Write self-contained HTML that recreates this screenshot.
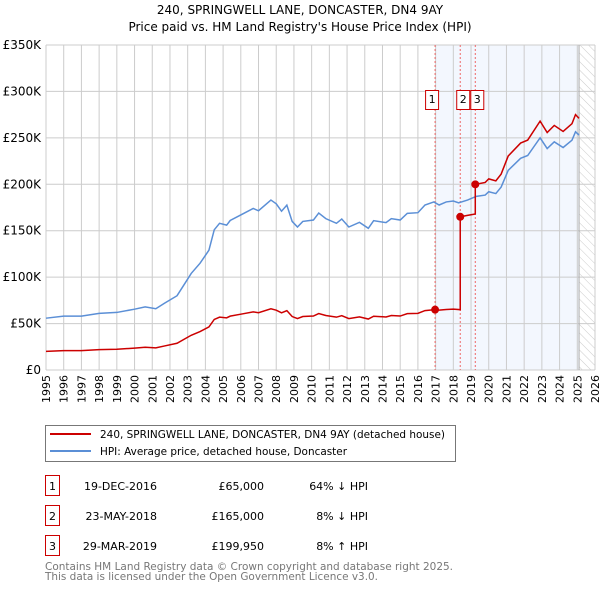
<!DOCTYPE html>
<html><head><meta charset="utf-8"><style>
body{margin:0;background:#fff;font-family:"DejaVu Sans","Liberation Sans",sans-serif;}
svg text{font-family:"DejaVu Sans","Liberation Sans",sans-serif;}
</style></head><body>
<svg id="chart" width="600" height="590" viewBox="0 0 600 590" xmlns="http://www.w3.org/2000/svg">
<defs><pattern id="hatch" width="6" height="6" patternUnits="userSpaceOnUse" patternTransform="rotate(-45)"><line x1="0" y1="0" x2="0" y2="6" stroke="#ccc" stroke-width="1"/></pattern></defs>
<text x="300" y="14" text-anchor="middle" font-size="12">240, SPRINGWELL LANE, DONCASTER, DN4 9AY</text>
<text x="300" y="31" text-anchor="middle" font-size="12">Price paid vs. HM Land Registry's House Price Index (HPI)</text>
<g id="plot"></g>
<rect x="45.5" y="425.5" width="410" height="36" fill="#fff" stroke="#777"/>
<line x1="50" y1="434" x2="91" y2="434" stroke="#cc0000" stroke-width="2"/>
<text x="100" y="438" font-size="10.5" textLength="345" lengthAdjust="spacingAndGlyphs">240, SPRINGWELL LANE, DONCASTER, DN4 9AY (detached house)</text>
<line x1="50" y1="451" x2="91" y2="451" stroke="#5b8fd6" stroke-width="2"/>
<text x="100" y="455" font-size="10.5" textLength="247" lengthAdjust="spacingAndGlyphs">HPI: Average price, detached house, Doncaster</text>
<g font-size="11">
<rect x="45.5" y="475.5" width="14" height="20" fill="#fff" stroke="#cc0000"/><text x="52.5" y="490" text-anchor="middle">1</text>
<text x="157" y="490" text-anchor="end">19-DEC-2016</text><text x="264" y="490" text-anchor="end">£65,000</text><text x="368" y="490" text-anchor="end">64% ↓ HPI</text>
<rect x="45.5" y="505.5" width="14" height="20" fill="#fff" stroke="#cc0000"/><text x="52.5" y="520" text-anchor="middle">2</text>
<text x="157" y="520" text-anchor="end">23-MAY-2018</text><text x="264" y="520" text-anchor="end">£165,000</text><text x="368" y="520" text-anchor="end">8% ↓ HPI</text>
<rect x="45.5" y="535.5" width="14" height="20" fill="#fff" stroke="#cc0000"/><text x="52.5" y="550" text-anchor="middle">3</text>
<text x="157" y="550" text-anchor="end">29-MAR-2019</text><text x="264" y="550" text-anchor="end">£199,950</text><text x="368" y="550" text-anchor="end">8% ↑ HPI</text>
</g>
<text x="45" y="570" font-size="11" fill="#777" textLength="408" lengthAdjust="spacingAndGlyphs">Contains HM Land Registry data © Crown copyright and database right 2025.</text>
<text x="45" y="580" font-size="11" fill="#777" textLength="333" lengthAdjust="spacingAndGlyphs">This data is licensed under the Open Government Licence v3.0.</text>
</svg>
<script>
const yTicks=[0,50000,100000,150000,200000,250000,300000,350000];
const yTickLabels=["£0","£50K","£100K","£150K","£200K","£250K","£300K","£350K"];
const xYears=[1995,1996,1997,1998,1999,2000,2001,2002,2003,2004,2005,2006,2007,2008,2009,2010,2011,2012,2013,2014,2015,2016,2017,2018,2019,2020,2021,2022,2023,2024,2025,2026];
const hpiT=[1995,1996,1997,1998,1999,2000,2000.6,2001.2,2001.7,2002.4,2002.9,2003.2,2003.7,2004.2,2004.5,2004.8,2005.2,2005.4,2006,2006.7,2007,2007.7,2008,2008.3,2008.6,2008.9,2009.2,2009.5,2010.1,2010.4,2010.8,2011.4,2011.7,2012.1,2012.7,2013.2,2013.5,2014.2,2014.5,2015,2015.4,2016,2016.4,2016.9,2017.2,2017.6,2018,2018.3,2018.8,2019.3,2019.8,2020,2020.4,2020.7,2021.1,2021.8,2022.2,2022.9,2023.3,2023.7,2024.2,2024.7,2024.9,2025.1];
const hpiV=[55.8,58,58,61,62,65.5,68,66,72,80,95,104,115,129,151,158,156,161,167,174,171.5,183,179,171,177.6,160,154,160,161.5,169,163,158,162.6,154,159,152.6,160.8,158.7,163,161.5,168.7,169.4,177.7,181,177.7,181,182,180,183,187,188.4,192,190,197,215,228,231,250,238.5,245.7,239.6,247.5,256.5,253];
const redT=[1995,1996,1997,1998,1999,2000,2000.6,2001.2,2001.7,2002.4,2002.9,2003.2,2003.7,2004.2,2004.5,2004.8,2005.2,2005.4,2006,2006.7,2007,2007.7,2008,2008.3,2008.6,2008.9,2009.2,2009.5,2010.1,2010.4,2010.8,2011.4,2011.7,2012.1,2012.7,2013.2,2013.5,2014.2,2014.5,2015,2015.4,2016,2016.4,2016.97,2017.2,2017.6,2018,2018.39,2018.39,2018.8,2019.24,2019.24,2019.8,2020,2020.4,2020.7,2021.1,2021.8,2022.2,2022.9,2023.3,2023.7,2024.2,2024.7,2024.9,2025.1];
const redV=[20.1,20.9,20.9,22,22.3,23.6,24.5,23.8,25.9,28.8,34.2,37.4,41.4,46.4,54.4,56.9,56.2,58,60.1,62.6,61.7,65.9,64.4,61.6,63.9,57.6,55.4,57.6,58.1,60.8,58.7,56.9,58.5,55.4,57.2,54.9,57.9,57.1,58.7,58.1,60.7,61,64,65,64.5,65.2,65.5,65,165,166.5,168,199.95,202,205.8,203.7,211,230.5,244.4,247.6,268,255.7,263.4,256.9,265.3,275,271];
const saleT=[2016.97,2018.39,2019.24];
const saleV=[65000,165000,199950];
const saleLabels=["1","2","3"];

const X0=46,X1=595,Y0=370,Y1=45;
const xs=t=>X0+(t-1995)/(2026-1995)*(X1-X0);
const ys=v=>Y0-v/350000*(Y0-Y1);
const NS="http://www.w3.org/2000/svg";
const g=document.getElementById('plot');
function mk(tag,attrs,parent){const e=document.createElementNS(NS,tag);for(const k in attrs)e.setAttribute(k,attrs[k]);(parent||g).appendChild(e);return e;}
const bg=mk('rect',{x:X0,y:Y1,width:X1-X0,height:Y0-Y1,fill:'#fff'});


const shade=mk('rect',{x:xs(saleT[0]),y:Y1,width:xs(2025.1)-xs(saleT[0]),height:Y0-Y1,fill:'#f3f7fe'});


const hat=mk('rect',{x:xs(2025.1),y:Y1,width:X1-xs(2025.1),height:Y0-Y1,fill:'url(#hatch)'});


xYears.forEach(yr=>{
  const l=mk('line',{x1:xs(yr),x2:xs(yr),y1:Y1,y2:Y0,stroke:'#ccc','stroke-width':1});
  
  
  const t=mk('text',{x:0,y:0,'font-size':11,'text-anchor':'end',transform:`translate(${xs(yr)+4},${Y0+5}) rotate(-90)`});
  t.textContent=yr;
  
  
});
yTicks.forEach((v,i)=>{
  const l=mk('line',{x1:X0,x2:X1,y1:ys(v),y2:ys(v),stroke:'#ccc','stroke-width':1});
  
  
  const t=mk('text',{x:X0-5,y:ys(v)+4,'font-size':12,'text-anchor':'end'});
  t.textContent=yTickLabels[i];
  
  
});
const b=mk('line',{x1:xs(2025.1),x2:xs(2025.1),y1:Y1,y2:Y0,stroke:'#aaa','stroke-width':1});


saleT.forEach((t,i)=>{
  const l=mk('line',{x1:xs(t),x2:xs(t),y1:Y1,y2:Y0,stroke:'#e66','stroke-width':1,'stroke-dasharray':'2,2'});
  
  
});
const hp=mk('polyline',{points:hpiT.map((t,i)=>xs(t)+','+ys(hpiV[i]*1000)).join(' '),fill:'none',stroke:'#5b8fd6','stroke-width':1.5});


const rp=mk('polyline',{points:redT.map((t,i)=>xs(t)+','+ys(redV[i]*1000)).join(' '),fill:'none',stroke:'#cc0000','stroke-width':1.5});


saleT.forEach((t,i)=>{
  const c=mk('circle',{cx:xs(t),cy:ys(saleV[i]),r:4,fill:'#cc0000'});
  
  
  const bx=[xs(t)-9,xs(t)-3,xs(t)-4][i];
  const r=mk('rect',{x:bx-0.5,y:90.5,width:13,height:19,fill:'#fff',stroke:'#cc0000'});
  
  
  const tx=mk('text',{x:bx+6,y:103,'font-size':11,'text-anchor':'middle'});
  tx.textContent=saleLabels[i];
  
  
});
</script>
</body></html>
